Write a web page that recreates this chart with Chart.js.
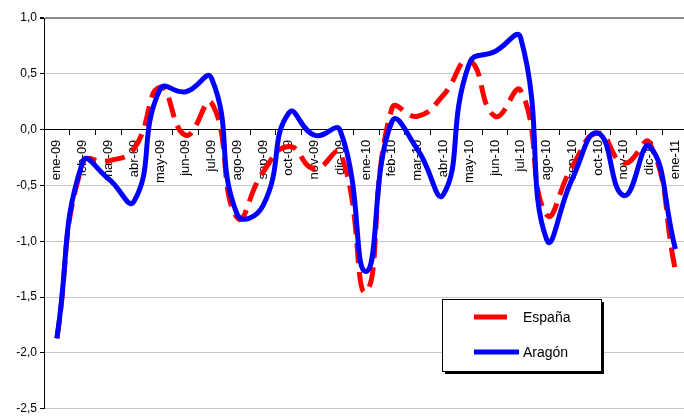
<html lang="es">
<head>
    <meta charset="UTF-8">
    <title>España / Aragón</title>
    <script src="https://cdn.jsdelivr.net/npm/chart.js"></script>
    <style>
        html, body { margin: 0; padding: 0; background: #fff; overflow: hidden; }
        #wrap { width: 696px; height: 419px; }
    </style>
</head>
<body>

<div id="wrap"><canvas id="lineChart" width="696" height="419"></canvas></div>

<script>

// month labels on the x axis
const months = ['ene-09', 'feb-09', 'mar-09', 'abr-09', 'may-09', 'jun-09', 'jul-09', 'ago-09', 'sep-09',
    'oct-09', 'nov-09', 'dic-09', 'ene-10', 'feb-10', 'mar-10', 'abr-10', 'may-10', 'jun-10', 'jul-10',
    'ago-10', 'sep-10', 'oct-10', 'nov-10', 'dic-10', 'ene-11'];

// series
const espana = [-1.87, -0.30, -0.28, -0.17, 0.38, -0.05, 0.24, -0.79, -0.38, -0.15, -0.35, -0.21, -1.45,
    0.19, 0.12, 0.31, 0.62, 0.12, 0.35, -0.76, -0.33, -0.03, -0.30, -0.12, -1.26];
const aragon = [-1.87, -0.29, -0.44, -0.64, 0.36, 0.34, 0.46, -0.76, -0.68, 0.15, -0.05, -0.01, -1.27,
    0.07, -0.18, -0.58, 0.59, 0.70, 0.82, -0.98, -0.44, -0.03, -0.59, -0.15, -1.07];

const yMin = -2.5, yMax = 1.0, yStep = 0.5;

const FONT = '"Liberation Sans", Arial, sans-serif';

// legend box drawn in the lower right, like the original
const boxLegend = {
    id: 'boxLegend',
    afterDraw(chart) {
        const ctx = chart.ctx;
        const x = 442, y = 299, w = 159, h = 72;
        ctx.save();
        ctx.fillStyle = '#000';
        ctx.fillRect(x + 3, y + 3, w, h);
        ctx.fillStyle = '#fff';
        ctx.fillRect(x, y, w, h);
        ctx.strokeStyle = '#000';
        ctx.lineWidth = 1;
        ctx.strokeRect(x + 0.5, y + 0.5, w, h);

        ctx.lineWidth = 5;
        ctx.strokeStyle = '#ff0000';
        ctx.beginPath(); ctx.moveTo(474, 317); ctx.lineTo(507, 317); ctx.stroke();
        ctx.strokeStyle = '#0000ff';
        ctx.beginPath(); ctx.moveTo(474, 352); ctx.lineTo(519, 352); ctx.stroke();

        ctx.fillStyle = '#000';
        ctx.font = '14px ' + FONT;
        ctx.textBaseline = 'middle';
        ctx.fillText(chart.data.datasets[0].label, 523, 318);
        ctx.fillText(chart.data.datasets[1].label, 523, 353);
        ctx.restore();
    }
};

const ctx = document.getElementById('lineChart').getContext('2d');
new Chart(ctx, {
    type: 'line',
    data: {
        labels: months,
        datasets: [
            {
                label: 'España',
                data: espana,
                borderColor: '#ff0000',
                borderWidth: 5,
                borderDash: [20, 9],
                tension: 0.5,
                pointRadius: 0,
                fill: false,
                order: 2
            },
            {
                label: 'Aragón',
                data: aragon,
                borderColor: '#0000ff',
                borderWidth: 5,
                tension: 0.5,
                pointRadius: 0,
                fill: false,
                order: 1
            }
        ]
    },
    options: {
        responsive: false,
        animation: false,
        layout: { padding: { top: 18, bottom: 8, right: 2, left: 0 } },
        plugins: {
            legend: { display: false },
            tooltip: { enabled: false }
        },
        scales: {
            x: {
                type: 'category',
                position: { y: 0 },
                offset: true,
                border: { display: true, color: '#000', width: 1 },
                grid: { offset: true, drawOnChartArea: false, tickLength: 5, color: '#000' },
                ticks: {
                    minRotation: 90,
                    maxRotation: 90,
                    autoSkip: false,
                    padding: 5,
                    color: '#000',
                    font: { family: FONT, size: 13 }
                }
            },
            y: {
                min: yMin,
                max: yMax,
                border: { display: true, color: '#000', width: 1 },
                afterFit(scale) { scale.width = 44; },
                grid: {
                    color: ctx => ctx.tick && ctx.tick.value === yMax ? '#8c8c8c' : '#c8c8c8',
                    lineWidth: ctx => ctx.tick && ctx.tick.value === yMax ? 2 : 1,
                    tickColor: '#000',
                    tickLength: 4
                },
                ticks: {
                    stepSize: yStep,
                    color: '#000',
                    padding: 3,
                    font: { family: FONT, size: 12 },
                    callback: v => v.toFixed(1).replace('.', ',')
                }
            }
        }
    },
    plugins: [boxLegend]
});

</script>

</body>
</html>
